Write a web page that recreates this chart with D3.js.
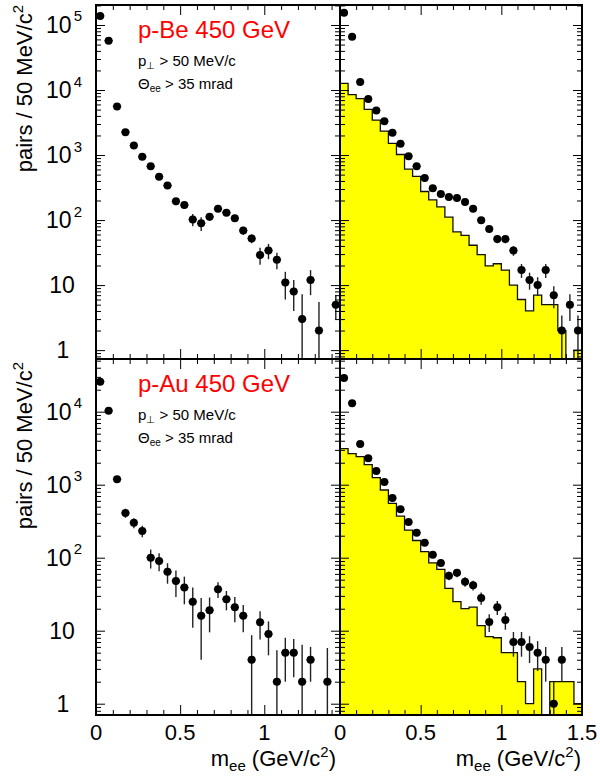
<!DOCTYPE html>
<html>
<head>
<meta charset="utf-8">
<script src="https://cdn.jsdelivr.net/npm/d3@7"></script>
<style>
  body { margin: 0; background: #fff; }
  svg { display: block; }
  text { font-family: "Liberation Sans", Arial, Helvetica, sans-serif; }
</style>
</head>
<body>
<svg id="chart" width="600" height="781"></svg>
<script>
// e+e- invariant mass spectra, 50 MeV/c^2 bins
const binWidth = 0.05;
const massBins = [0.025, 0.075, 0.125, 0.175, 0.225, 0.275, 0.325, 0.375, 0.425, 0.475,
                  0.525, 0.575, 0.625, 0.675, 0.725, 0.775, 0.825, 0.875, 0.925, 0.975,
                  1.025, 1.075, 1.125, 1.175, 1.225, 1.275, 1.325, 1.375, 1.425, 1.475];

// p-Be, with pT and opening-angle cuts
const beCutCounts = [138000, 57400, 5600, 2250, 1400, 940, 670, 465, 340, 194,
                     170, 102, 89, 112, 149, 130, 107, 69, 52, 29,
                     34, 24.5, 11, 8, 3, 12, 2, null, 5, null];
const beCutErrors = [1500, 900, 300, 150, 110, 90, 70, 50, 40, 25,
                     22, 22, 21, 15, 15, 15, 14, 10, 8, 8.5,
                     9, 7, 5, 4, 4.2, 5, 3.5, 0, 2, 0];

// p-Be, all pairs, with simulated contribution
const beAllCounts = [154000, 66000, 13300, 7270, 4860, 3300, 2200, 1490, 960, 670,
                     443, 308, 251, 226, 218, 189, 149, 99, 73, 51,
                     51, 34, 17, 12, 10, 17, 7, 2, 5, 2];
const beAllErrors = [392, 257, 115, 85, 70, 57, 47, 39, 31, 26,
                     21, 17.5, 16, 15, 15, 14, 12, 10, 8.5, 7.1,
                     7.1, 5.8, 4.1, 3.5, 3.2, 4.1, 2.6, 1.4, 2.2, 1.4];
const beSimulated = [12680, 8470, 7350, 5050, 3455, 2340, 1515, 1020, 609, 470,
                     275, 205, 159, 111, 66, 58, 41, 29.5, 19.8, 21.3,
                     17, 10, 6, 4, 7, 5, 5, 2, 0, 1];

// p-Au, with pT and opening-angle cuts
const auCutCounts = [25800, 10300, 1190, 410, 301, 232, 100, 90, 64, 48,
                     39, 25, 16, 19, 37, 27, 21, 16, 4, 13,
                     9, 2, 5, 5, 2, 4, null, 2, null, null];
const auCutErrors = [600, 400, 120, 58, 47, 42, 29, 25, 20, 19,
                     16, 14, 12, 9.5, 9, 8, 8, 6.5, 4.7, 5.4,
                     4.4, 3.4, 3, 2.7, 4.4, 2, 0, 3.8, 0, 0];

// p-Au, all pairs, with simulated contribution
const auAllCounts = [29000, 13000, 3610, 2300, 1540, 1090, 655, 460, 308, 220,
                     160, 110, 84.5, 56.6, 62, 47, 42, 28, 13.2, 21,
                     14, 7, 7, 6, 5, 4, 1, 4, null, null];
const auAllErrors = [170, 114, 60, 48, 39, 33, 25.6, 21.4, 17.5, 14.8,
                     12.6, 10.5, 9.2, 7.5, 7.9, 6.9, 6.5, 5.3, 3.6, 4.6,
                     3.7, 2.6, 2.6, 2.4, 2.2, 2, 1, 2, 0, 0];
const auSimulated = [3113, 2660, 2420, 1880, 1247, 846, 556, 372, 239, 172,
                     121, 85, 69, 38, 25, 20, 21, 11.7, 8.3, 8,
                     5, 5, 2, 1, 3, 0, 2, 2, 2, 1];

const systemLabels = ["p-Be 450 GeV", "p-Au 450 GeV"];
const topDecades = [1, 10, 100, 1000, 10000, 100000];
const bottomDecades = [1, 10, 100, 1000, 10000];
const leftMassTicks = [0, 0.5, 1];
const rightMassTicks = [0, 0.5, 1, 1.5];
const massMinorTicks = [0.1, 0.2, 0.3, 0.4, 0.6, 0.7, 0.8, 0.9, 1.1, 1.2, 1.3, 1.4];

const svg = d3.select("#chart");
const defs = svg.append("defs");

const columns = [
  { x0: 96, x1: 340, max: 1.45, majors: leftMassTicks },
  { x0: 340, x1: 582, max: 1.5, majors: rightMassTicks }
];
const rows = [
  { y0: 5, y1: 359, domain: [0.73, 2.03e5], decades: topDecades, label: systemLabels[0] },
  { y0: 359, y1: 715, domain: [0.70, 5.27e4], decades: bottomDecades, label: systemLabels[1] }
];

function logMinors(domain) {
  const out = [];
  for (let p = -1; p <= 6; p++) {
    for (let k = 2; k <= 9; k++) {
      const v = k * Math.pow(10, p);
      if (v > domain[0] && v < domain[1]) out.push(v);
    }
  }
  return out;
}

let panelIndex = 0;
function drawPanel(row, col, data) {
  const id = "clip" + (panelIndex++);
  const x = d3.scaleLinear().domain([0, col.max]).range([col.x0, col.x1]);
  const y = d3.scaleLog().domain(row.domain).range([row.y1, row.y0]);

  defs.append("clipPath").attr("id", id).append("rect")
    .attr("x", col.x0).attr("y", row.y0)
    .attr("width", col.x1 - col.x0).attr("height", row.y1 - row.y0);

  const plot = svg.append("g").attr("clip-path", `url(#${id})`);
  const floorY = row.y1 + 3;

  if (data.sim) {
    const steps = data.sim.map((v, i) => [massBins[i] - binWidth / 2, v]);
    steps.push([massBins[massBins.length - 1] + binWidth / 2, data.sim[data.sim.length - 1]]);
    const area = d3.area()
      .x(d => x(d[0]))
      .y0(floorY)
      .y1(d => d[1] > 0 ? y(d[1]) : floorY)
      .curve(d3.curveStepAfter);
    plot.append("path").attr("d", area(steps)).attr("fill", "#ffff00");
    const line = d3.line()
      .x(d => x(d[0]))
      .y(d => d[1] > 0 ? y(d[1]) : floorY)
      .curve(d3.curveStepAfter);
    plot.append("path").attr("d", line(steps))
      .attr("fill", "none").attr("stroke", "#111").attr("stroke-width", 1.3);
  }

  const pts = massBins.map((m, i) => ({ m, v: data.counts[i], e: data.errors[i] }))
    .filter(d => d.v != null && d.v > 0);

  plot.selectAll("line.ev").data(pts).join("line")
    .attr("class", "ev")
    .attr("x1", d => x(d.m)).attr("x2", d => x(d.m))
    .attr("y1", d => y(d.v + d.e))
    .attr("y2", d => d.v - d.e > 0 ? y(d.v - d.e) : floorY)
    .attr("stroke", "#222").attr("stroke-width", 1.4);

  plot.selectAll("line.eh").data(pts).join("line")
    .attr("class", "eh")
    .attr("x1", d => x(d.m - binWidth / 2)).attr("x2", d => x(d.m + binWidth / 2))
    .attr("y1", d => y(d.v)).attr("y2", d => y(d.v))
    .attr("stroke", "#222").attr("stroke-width", 1.2);

  plot.selectAll("circle").data(pts).join("circle")
    .attr("cx", d => x(d.m)).attr("cy", d => y(d.v)).attr("r", 4)
    .attr("fill", "#000");

  // ticks pointing into the frame on all four sides
  const axes = svg.append("g").attr("stroke-width", 1);
  const minorY = logMinors(row.domain);
  const mk = (axisFn, scale, values, size, tx, ty) => {
    const g = axes.append("g").attr("transform", `translate(${tx},${ty})`)
      .call(axisFn(scale).tickValues(values).tickSize(-size).tickSizeOuter(0).tickFormat(""));
    g.select(".domain").remove();
    g.selectAll("line").attr("stroke", "#000");
  };
  mk(d3.axisLeft, y, row.decades, 9, col.x0, 0);
  mk(d3.axisLeft, y, minorY, 5, col.x0, 0);
  mk(d3.axisRight, y, row.decades, 9, col.x1, 0);
  mk(d3.axisRight, y, minorY, 5, col.x1, 0);
  const majorsIn = col.majors.filter(v => v <= col.max);
  const minorsIn = massMinorTicks.filter(v => v < col.max);
  mk(d3.axisBottom, x, majorsIn, 10, 0, row.y1);
  mk(d3.axisBottom, x, minorsIn, 5, 0, row.y1);
  mk(d3.axisTop, x, majorsIn, 10, 0, row.y0);
  mk(d3.axisTop, x, minorsIn, 5, 0, row.y0);

  svg.append("rect")
    .attr("x", col.x0).attr("y", row.y0)
    .attr("width", col.x1 - col.x0).attr("height", row.y1 - row.y0)
    .attr("fill", "none").attr("stroke", "#000").attr("stroke-width", 2);

  return { x, y };
}

const panels = [
  [rows[0], columns[0], { counts: beCutCounts, errors: beCutErrors }],
  [rows[0], columns[1], { counts: beAllCounts, errors: beAllErrors, sim: beSimulated }],
  [rows[1], columns[0], { counts: auCutCounts, errors: auCutErrors }],
  [rows[1], columns[1], { counts: auAllCounts, errors: auAllErrors, sim: auSimulated }]
];
const scales = panels.map(p => drawPanel(p[0], p[1], p[2]));

// y tick labels (left column only)
rows.forEach((row, r) => {
  const y = scales[r * 2].y;
  const lab = svg.append("g").attr("font-size", 23).attr("fill", "#000");
  row.decades.forEach(v => {
    const exp = Math.round(Math.log10(v));
    const t = lab.append("text").attr("y", y(v) + 8);
    if (exp === 0) {
      t.attr("x", 63).attr("text-anchor", "middle").text("1");
    } else if (exp === 1) {
      t.attr("x", 62).attr("text-anchor", "middle").text("10");
    } else {
      t.attr("x", 64).attr("text-anchor", "middle");
      t.append("tspan").text("10");
      t.append("tspan").attr("font-size", 15).attr("dx", 2).attr("dy", -11.5).text(exp);
    }
  });

  // y axis title
  const yt = svg.append("text")
    .attr("transform", `translate(32,${row.y0 + (r === 0 ? 0 : 3)}) rotate(-90)`)
    .attr("text-anchor", "end").attr("font-size", 22);
  yt.append("tspan").text("pairs / 50 MeV/c");
  yt.append("tspan").attr("font-size", 15).attr("dy", -9).text("2");

  // system label and cuts
  const base = row.y0;
  svg.append("text").attr("x", 138).attr("y", base + 32.5)
    .attr("font-size", 24).attr("fill", "#ff0000").text(row.label);
  const c1 = svg.append("text").attr("x", 138).attr("y", base + 61).attr("font-size", 15);
  c1.append("tspan").text("p");
  c1.append("tspan").attr("font-size", 10).attr("dy", 3).text("\u22A5");
  c1.append("tspan").attr("dy", -3).text(" > 50 MeV/c");
  const c2 = svg.append("text").attr("x", 138).attr("y", base + 84).attr("font-size", 15);
  c2.append("tspan").text("\u0398");
  c2.append("tspan").attr("font-size", 10).attr("dy", 3).text("ee");
  c2.append("tspan").attr("dy", -3).text(" > 35 mrad");
});

// mass axis labels and titles (bottom row)
columns.forEach((col, c) => {
  const x = scales[2 + c].x;
  const g = svg.append("g").attr("font-size", 22).attr("text-anchor", "middle");
  col.majors.forEach(v => {
    g.append("text").attr("x", x(v)).attr("y", 740).text(String(v));
  });
  const t = svg.append("text").attr("x", c === 0 ? 336 : 581).attr("y", 766)
    .attr("text-anchor", "end").attr("font-size", 22);
  t.append("tspan").text("m");
  t.append("tspan").attr("font-size", 15).attr("dy", 5).text("ee");
  t.append("tspan").attr("dy", -5).text(" (GeV/c");
  t.append("tspan").attr("font-size", 15).attr("dy", -9).text("2");
  t.append("tspan").attr("dy", 9).text(")");
});
</script>
</body>
</html>
